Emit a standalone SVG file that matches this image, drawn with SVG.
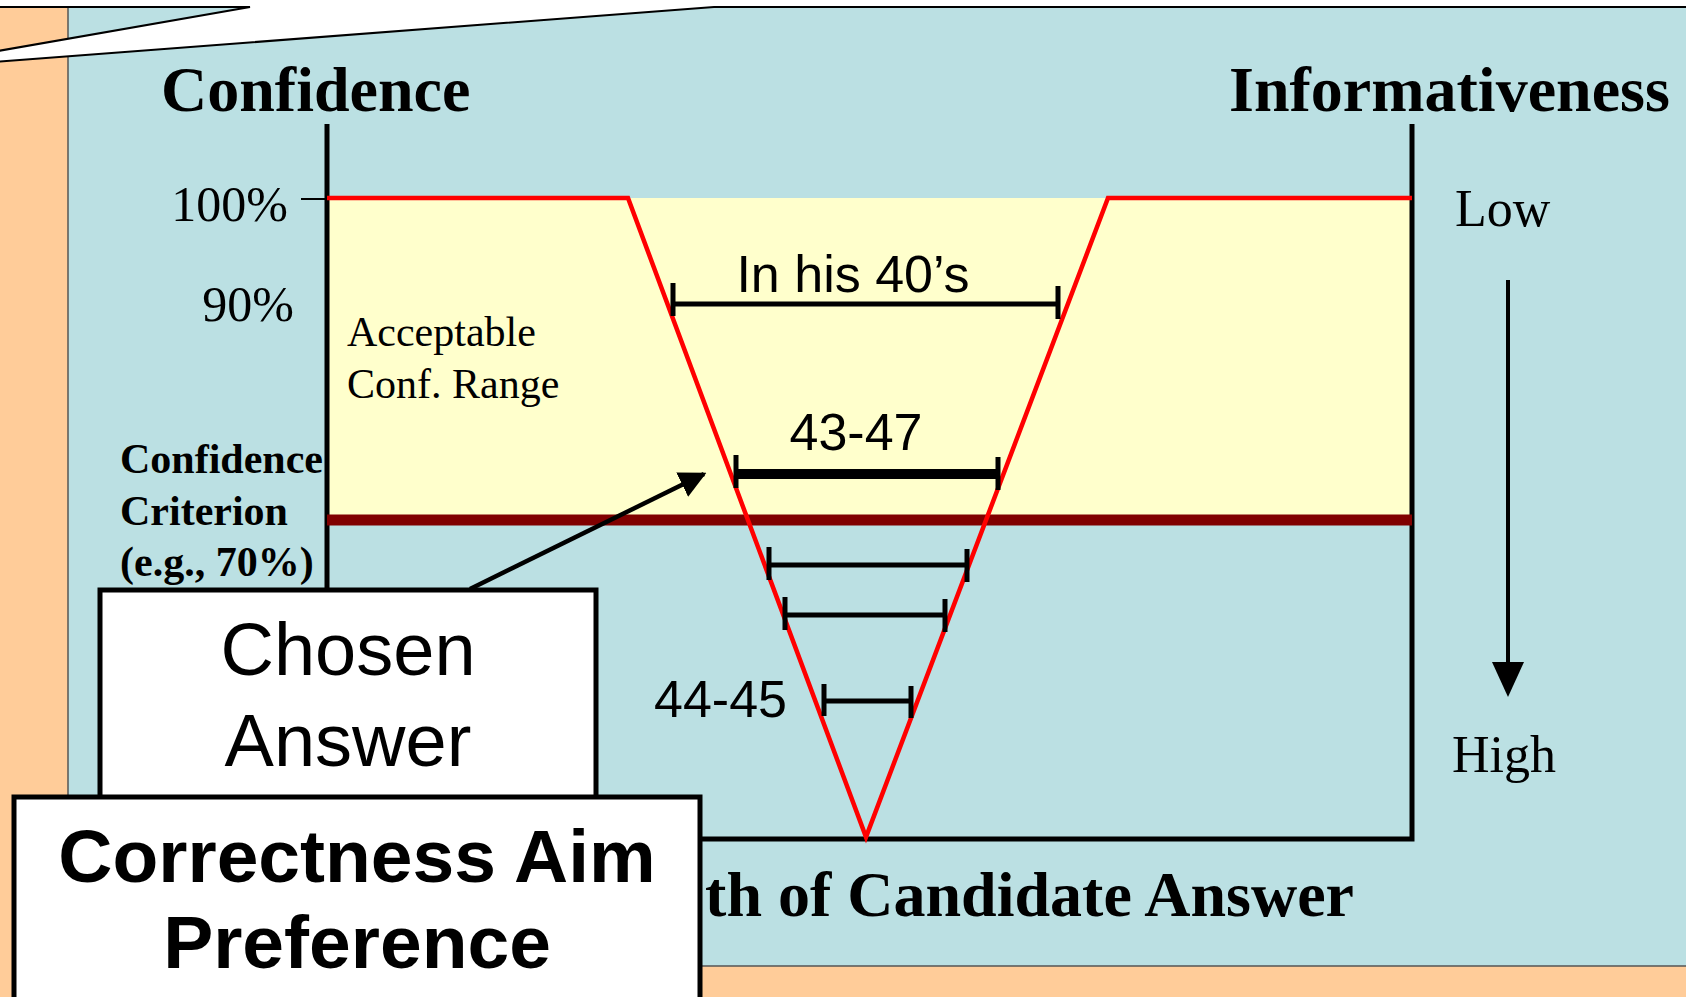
<svg xmlns="http://www.w3.org/2000/svg" width="1686" height="997" viewBox="0 0 1686 997">
<style>
.serif{font-family:"Liberation Serif","Times New Roman",serif;fill:#000}
.sans{font-family:"Liberation Sans",Arial,sans-serif;fill:#000}
.axis{stroke:#000;stroke-width:5;fill:none}
.bar{stroke:#000;stroke-width:5;fill:none}
.box{fill:#fff;stroke:#000;stroke-width:5}
</style>
<defs>
<marker id="ah" viewBox="0 0 10 10" refX="9" refY="5" markerWidth="6" markerHeight="6" markerUnits="strokeWidth" orient="auto">
<path d="M0,0 L10,5 L0,10 Z" fill="#000"/>
</marker>
<clipPath id="clipY"><rect x="327" y="198" width="1085" height="322"/></clipPath>
</defs>
<rect x="0" y="0" width="1686" height="997" fill="#FFCC99"/>
<rect id="panel" x="68" y="7" width="1630" height="959" fill="#BBE0E3" stroke="#555" stroke-width="1.5"/>
<polygon id="callout" points="-20,-20 1710,-20 1710,7 714,7 -111,70 250,7 -20,7" fill="#fff" stroke="#000" stroke-width="2"/>
<g id="chart">
<rect x="327" y="198" width="1085" height="322" fill="#FFFFCC"/>
<polygon points="628,198 1108,198 866,837" fill="#BBE0E3"/>
<polygon points="628,198 1108,198 866,837" fill="#FFFFCC" clip-path="url(#clipY)"/>
</g>
<g id="axes">
<polyline class="axis" points="327,124 327,839 1412,839 1412,124"/>
<line x1="301" y1="199" x2="327" y2="199" stroke="#000" stroke-width="2"/>
</g>
<line id="criterion" x1="327" y1="520" x2="1412" y2="520" stroke="#800000" stroke-width="11"/>
<polyline id="vshape" points="327,198 628,198 866,837 1108,198 1412,198" fill="none" stroke="#FF0000" stroke-width="4.5"/>
<g id="bars">
<g id="bar1"><line class="bar" x1="673" y1="304" x2="1058" y2="304"/><line class="bar" x1="673" y1="283" x2="673" y2="316"/><line class="bar" x1="1058" y1="286" x2="1058" y2="319"/></g>
<g id="bar2"><line x1="736" y1="474" x2="998" y2="474" stroke="#000" stroke-width="10"/><line class="bar" x1="736" y1="455" x2="736" y2="488"/><line class="bar" x1="998" y1="457" x2="998" y2="490"/></g>
<g id="bar3"><line class="bar" x1="769" y1="565" x2="967" y2="565"/><line class="bar" x1="769" y1="547" x2="769" y2="580"/><line class="bar" x1="967" y1="549" x2="967" y2="582"/></g>
<g id="bar4"><line class="bar" x1="785" y1="615" x2="945" y2="615"/><line class="bar" x1="785" y1="597" x2="785" y2="630"/><line class="bar" x1="945" y1="599" x2="945" y2="632"/></g>
<g id="bar5"><line class="bar" x1="824" y1="701" x2="911" y2="701"/><line class="bar" x1="824" y1="684" x2="824" y2="716"/><line class="bar" x1="911" y1="686" x2="911" y2="718"/></g>
</g>
<g id="labels">
<text class="serif" x="161" y="111" font-size="64" font-weight="bold">Confidence</text>
<text class="serif" x="1229" y="111" font-size="64" font-weight="bold">Informativeness</text>
<text class="serif" x="288" y="221" font-size="50" text-anchor="end">100%</text>
<text class="serif" x="294" y="321" font-size="50" text-anchor="end">90%</text>
<text class="serif" x="347" y="346" font-size="42">Acceptable</text>
<text class="serif" x="347" y="398" font-size="42">Conf. Range</text>
<text class="serif" x="120" y="473" font-size="42" font-weight="bold">Confidence</text>
<text class="serif" x="120" y="525" font-size="42" font-weight="bold">Criterion</text>
<text class="serif" x="120" y="576" font-size="42" font-weight="bold">(e.g., 70%)</text>
<text class="serif" x="1455" y="226" font-size="52">Low</text>
<text class="serif" x="1452" y="772" font-size="52">High</text>
<text class="sans" x="853" y="292" font-size="52" text-anchor="middle">In his 40’s</text>
<text class="sans" x="856" y="450" font-size="52" text-anchor="middle">43-47</text>
<text class="sans" x="787" y="717" font-size="52" text-anchor="end">44-45</text>
<text class="serif" x="1354" y="916" font-size="64" font-weight="bold" text-anchor="end">th of Candidate Answer</text>
</g>
<g id="infoArrow">
<line x1="1508" y1="280" x2="1508" y2="664" stroke="#000" stroke-width="4"/>
<polygon points="1492,662 1524,662 1508,697" fill="#000"/>
</g>
<g id="connectors">
<line x1="470" y1="589" x2="704" y2="474" stroke="#000" stroke-width="4.5" marker-end="url(#ah)"/>
</g>
<g id="chosen">
<rect class="box" x="100" y="590" width="496" height="230"/>
<text class="sans" x="348" y="675" font-size="74" text-anchor="middle">Chosen</text>
<text class="sans" x="348" y="766" font-size="74" text-anchor="middle">Answer</text>
</g>
<g id="correctness">
<rect class="box" x="14" y="797" width="686" height="220"/>
<text class="sans" x="357" y="882" font-size="75" font-weight="bold" text-anchor="middle">Correctness Aim</text>
<text class="sans" x="357" y="968" font-size="75" font-weight="bold" text-anchor="middle">Preference</text>
</g>
</svg>
